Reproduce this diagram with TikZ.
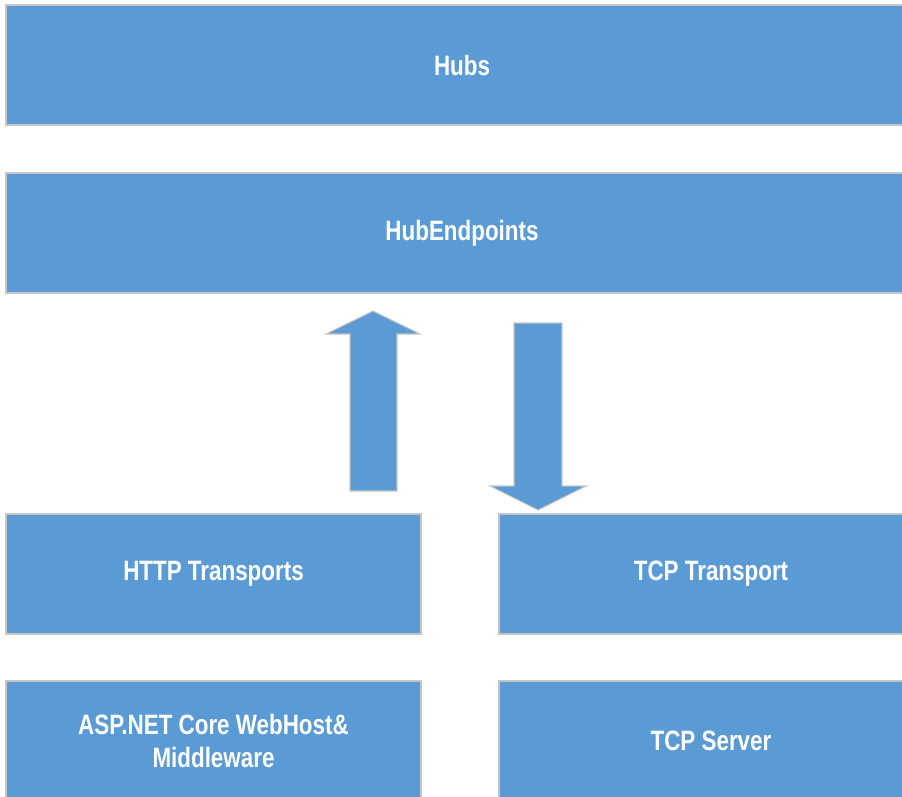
\documentclass[tikz,border=0pt]{standalone}
\usepackage{fontspec}
\setmainfont{Liberation Sans}[FakeStretch=0.80]
\usepackage{xcolor}
\definecolor{layerblue}{HTML}{5B9BD5}
\definecolor{layeredge}{HTML}{C6C6C6}
\usetikzlibrary{positioning}
\tikzset{
  layerbox/.style={draw=layeredge, fill=layerblue, line width=1.3pt,
        align=center, text=white,
        font=\fontsize{28}{33}\selectfont\bfseries},
  blockarrow/.style={draw=layeredge, fill=layerblue, line width=1.1pt}
}

\begin{document}
\begin{tikzpicture}[x=1pt,y=-1pt]

  \useasboundingbox (0,0) rectangle (902,796);
  \clip (0,0) rectangle (902,796);

  %% Top layers
  \node[layerbox, minimum width=912pt, minimum height=120pt]
    (hubs) at (462,65) {Hubs};
  \node[layerbox, minimum width=912pt, minimum height=120pt]
    (endpts) at (462,233) {HubEndpoints};

  %% Arrows between endpoints and transports
  \draw[blockarrow]
    (350,491) -- (350,334) -- (326,334) -- (373,311)
    -- (420,334) -- (397,334) -- (397,491) -- cycle;
  \draw[blockarrow]
    (514,323) -- (562,323) -- (562,486) -- (586,486)
    -- (538,510) -- (490,486) -- (514,486) -- cycle;

  %% Transports
  \node[layerbox, minimum width=415pt, minimum height=120pt]
    (http) at (213.5,574) {HTTP Transports};
  \node[layerbox, minimum width=424pt, minimum height=120pt]
    (tcp) at (711,574) {TCP Transport};

  %% Hosts
  \node[layerbox, minimum width=415pt, minimum height=120pt]
    (aspnet) at (213.5,741) {ASP.NET Core WebHost\&\\Middleware};
  \node[layerbox, minimum width=424pt, minimum height=120pt]
    (tcpsrv) at (711,741) {TCP Server};

\end{tikzpicture}
\end{document}
